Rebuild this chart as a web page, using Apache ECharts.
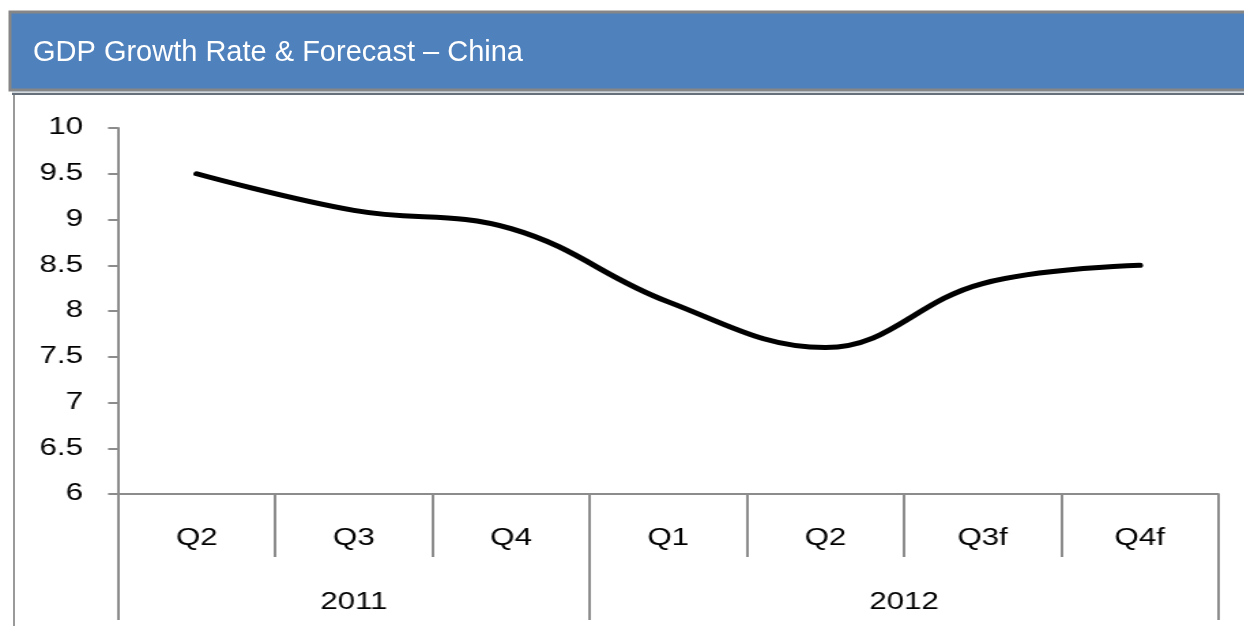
<!DOCTYPE html>
<html>
<head>
<meta charset="utf-8">
<script src="https://cdn.jsdelivr.net/npm/echarts@6/dist/echarts.min.js"></script>
<style>
html,body{margin:0;padding:0;background:#fff;overflow:hidden;}
#wrap{position:relative;width:1244px;height:626px;}
#plot{position:absolute;left:0;top:0;height:626px;transform-origin:0 0;}
#frame{position:absolute;left:0;top:0;width:1244px;height:626px;pointer-events:none;}
</style>
</head>
<body>
<div id="wrap">
  <div id="plot"></div>
  <div id="frame"></div>
</div>
<script>
// ---- data ----
var title = 'GDP Growth Rate & Forecast \u2013 China';
var quarters = ['Q2', 'Q3', 'Q4', 'Q1', 'Q2', 'Q3f', 'Q4f'];
var years = ['2011', '2012'];
var yearSpans = [3, 4];            // number of quarters in each year group
var gdpGrowth = [9.5, 9.1, 8.9, 8.1, 7.6, 8.3, 8.5];
var yMin = 6, yMax = 10, yStep = 0.5;

// ---- derived group boundaries / label centres ----
var bounds = [0], mids = [];
yearSpans.forEach(function (s) {
  var start = bounds[bounds.length - 1];
  mids.push(start + s / 2);
  bounds.push(start + s);
});

var font = '"Liberation Sans", Arial, sans-serif';
var axisGray = '#8c8c8c';

// The embedded chart in the reference is stretched horizontally.
var sx = 1.36;
var W = 1244, H = 626;
var plotW = W / sx;
var plotEl = document.getElementById('plot');
plotEl.style.width = plotW + 'px';
plotEl.style.transform = 'scaleX(' + sx + ')';

var plot = echarts.init(plotEl, null, { renderer: 'canvas', width: plotW, height: H });
plot.setOption({
  animation: false,
  backgroundColor: 'transparent',
  textStyle: { fontFamily: font },
  grid: { left: 118 / sx, right: (W - 1217) / sx, top: 128, bottom: 132, containLabel: false },
  xAxis: [
    {
      type: 'category',
      data: quarters,
      boundaryGap: true,
      position: 'bottom',
      axisLine: { show: true, lineStyle: { color: axisGray, width: 2 } },
      axisTick: { show: true, interval: 0, length: 63, lineStyle: { color: axisGray, width: 2 } },
      axisLabel: { interval: 0, margin: 33, color: '#000', fontSize: 23, fontFamily: font },
      splitLine: { show: false }
    },
    {
      type: 'value',
      min: 0,
      max: quarters.length,
      position: 'bottom',
      axisLine: { show: false },
      axisTick: { show: true, customValues: bounds, length: 126, lineStyle: { color: axisGray, width: 2 } },
      axisLabel: {
        customValues: mids, margin: 97, color: '#000', fontSize: 23, fontFamily: font,
        formatter: function (v) { var i = mids.indexOf(v); return i >= 0 ? years[i] : ''; }
      },
      splitLine: { show: false }
    }
  ],
  yAxis: {
    type: 'value',
    min: yMin, max: yMax, interval: yStep,
    axisLine: { show: true, lineStyle: { color: axisGray, width: 2 } },
    axisTick: { show: true, length: 10 / sx, lineStyle: { color: axisGray, width: 2 } },
    axisLabel: { margin: 35 / sx, color: '#000', fontSize: 23, fontFamily: font },
    splitLine: { show: false }
  },
  series: [{
    type: 'line',
    xAxisIndex: 0,
    data: gdpGrowth,
    smooth: 0.4,
    showSymbol: false,
    symbol: 'none',
    lineStyle: { color: '#000', width: 5, cap: 'round', join: 'round' }
  }]
});

var frame = echarts.init(document.getElementById('frame'), null, { renderer: 'canvas', width: W, height: H });
frame.setOption({
  animation: false,
  backgroundColor: 'transparent',
  graphic: [
    { type: 'rect', shape: { x: 10, y: 12, width: 1250, height: 78 },
      style: { fill: '#4f81bd', stroke: '#868686', lineWidth: 3 }, z: 1 },
    { type: 'line', shape: { x1: 12, y1: 92, x2: 1244, y2: 92 },
      style: { stroke: '#a9b6c2', lineWidth: 1 }, z: 1 },
    { type: 'line', shape: { x1: 12, y1: 94, x2: 1244, y2: 94 },
      style: { stroke: '#66707a', lineWidth: 2 }, z: 1 },
    { type: 'line', shape: { x1: 14, y1: 95, x2: 14, y2: 626 },
      style: { stroke: '#9a9a9a', lineWidth: 2 }, z: 1 },
    { type: 'text', left: 33, top: 38, z: 2,
      style: { text: title, fill: '#ffffff', font: '29px ' + font } }
  ]
});
</script>
</body>
</html>
